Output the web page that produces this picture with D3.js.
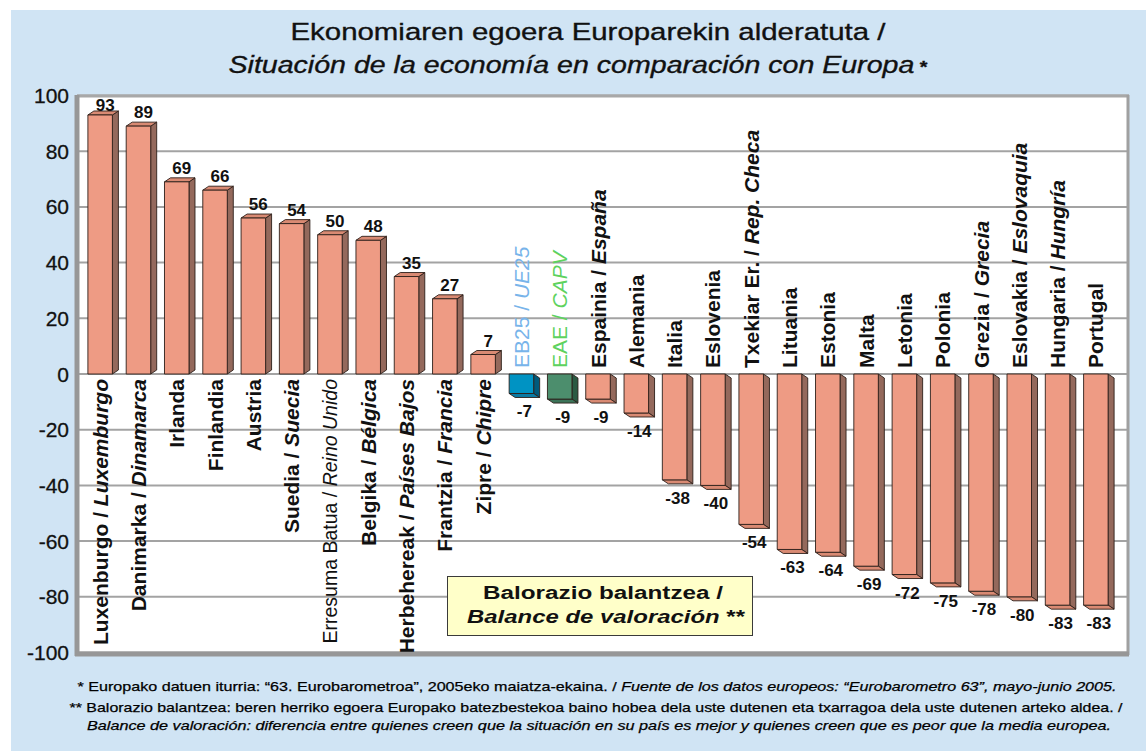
<!DOCTYPE html>
<html><head><meta charset="utf-8">
<script src="https://cdn.jsdelivr.net/npm/d3@7"></script>
<style>
body{margin:0;background:#fff}
svg{display:block}
text{font-family:"Liberation Sans",Arial,Helvetica,sans-serif}
</style>
</head><body>
<svg id="chart" width="1146" height="755"></svg>
<script>
// ---------- data ----------
const namesEu = ["Luxenburgo","Danimarka","Irlanda","Finlandia","Austria","Suedia","Erresuma Batua","Belgika","Herbehereak","Frantzia","Zipre","EB25","EAE","Espainia","Alemania","Italia","Eslovenia","Txekiar Er.","Lituania","Estonia","Malta","Letonia","Polonia","Grezia","Eslovakia","Hungaria","Portugal"];
const namesEs = ["Luxemburgo","Dinamarca","","","","Suecia","Reino Unido","Bélgica","Países Bajos","Francia","Chipre","UE25","CAPV","España","","","","Rep. Checa","","","","","","Grecia","Eslovaquia","Hungría",""];
const values = [93,89,69,66,56,54,50,48,35,27,7,-7,-9,-9,-14,-38,-40,-54,-63,-64,-69,-72,-75,-78,-80,-83,-83];
const yTicks = [100,80,60,40,20,0,-20,-40,-60,-80,-100];
const specialBars = {"EB25":"eu","EAE":"capv"};
const lightLabels = ["Erresuma Batua","EB25","EAE"];
const titleLine1 = "Ekonomiaren egoera Europarekin alderatuta /";
const titleLine2 = "Situación de la economía en comparación con Europa";
const legendLine1 = "Balorazio balantzea /";
const legendLine2 = "Balance de valoración";
const note1Eu = "* Europako datuen iturria:  “63. Eurobarometroa”, 2005eko maiatza-ekaina. /  ";
const note1Es = "Fuente de los datos europeos: “Eurobarometro 63”, mayo-junio 2005.";
const note2Eu = "** Balorazio balantzea: beren herriko egoera Europako batezbestekoa baino hobea dela uste dutenen eta txarragoa dela uste dutenen arteko aldea. /";
const note2Es = "Balance de valoración: diferencia entre quienes creen que la situación en su país es mejor y quienes creen que es peor que la media europea.";

// ---------- layout ----------
const svg = d3.select("#chart");
const plot = {left:77, right:1129, top:96, bottom:653};
const y = d3.scaleLinear().domain([-100,100]).range([652.5,95.5]);
const x = d3.scaleBand().domain(d3.range(values.length)).range([81,1115]).paddingInner(0.36).paddingOuter(0.18);
const dx = 6, dy = 4;
const palette = {
  normal:{front:"#ee9b84", side:"#94695c", cap:"#d98a73"},
  eu:{front:"#0093c3", side:"#005a7c", cap:"#0a7aa3"},
  capv:{front:"#4c8e6d", side:"#2b5a43", cap:"#3c7358"}
};
const labelColor = {normal:"#111", eu:"#78b4ea", capv:"#5ed25e"};

// background panel
svg.append("rect").attr("x",11).attr("y",10).attr("width",1135).attr("height",741).attr("fill","#d0e4f4");

// plot area
svg.append("rect").attr("x",plot.left).attr("y",plot.top).attr("width",plot.right-plot.left).attr("height",plot.bottom-plot.top).attr("fill","#fff");

// gridlines
svg.append("g").selectAll("line").data(yTicks).join("line")
  .attr("x1",plot.left).attr("x2",plot.right)
  .attr("y1",d=>y(d)).attr("y2",d=>y(d))
  .attr("stroke","#a3a3a3").attr("stroke-width",2);

// borders
svg.append("line").attr("x1",plot.left).attr("x2",plot.right).attr("y1",plot.top).attr("y2",plot.top).attr("stroke","#a8a8a8").attr("stroke-width",3);
svg.append("line").attr("x1",plot.right-1).attr("x2",plot.right-1).attr("y1",plot.top-1).attr("y2",plot.bottom+2).attr("stroke","#a0a0a0").attr("stroke-width",3);
svg.append("line").attr("x1",plot.left).attr("x2",plot.left).attr("y1",plot.top-1).attr("y2",plot.bottom+3).attr("stroke","#979797").attr("stroke-width",5);
svg.append("line").attr("x1",plot.left-2).attr("x2",plot.right).attr("y1",plot.bottom+1).attr("y2",plot.bottom+1).attr("stroke","#979797").attr("stroke-width",5);

// y tick labels
svg.append("g").selectAll("text").data(yTicks).join("text")
  .attr("x",69).attr("y",d=>y(d)).attr("dy","0.36em")
  .attr("text-anchor","end").attr("font-size",21).attr("fill","#111")
  .attr("stroke","#111").attr("stroke-width",0.3)
  .text(d=>d);

// legend box
const lg = svg.append("g");
lg.append("rect").attr("x",447.5).attr("y",576.5).attr("width",305).attr("height",59).attr("fill","#ffffc9").attr("stroke","#3a3a3a").attr("stroke-width",1);
lg.append("text").attr("x",603).attr("y",599).attr("text-anchor","middle").attr("font-size",18).attr("font-weight","bold").attr("fill","#111")
  .attr("textLength",240).attr("lengthAdjust","spacingAndGlyphs").text(legendLine1);
const l2 = lg.append("text").attr("x",606).attr("y",623).attr("text-anchor","middle").attr("font-size",18).attr("font-weight","bold").attr("fill","#111")
  .attr("textLength",278).attr("lengthAdjust","spacingAndGlyphs");
l2.append("tspan").attr("font-style","italic").text(legendLine2);
l2.append("tspan").text(" **");

// bars
const y0 = y(0);
const bars = svg.append("g");
values.forEach((v,i)=>{
  const kind = specialBars[namesEu[i]] || "normal";
  const c = palette[kind];
  const x0 = x(i), x1 = x(i)+x.bandwidth(), yv = y(v);
  const g = bars.append("g").attr("stroke","#2d1f1a").attr("stroke-width",0.9).attr("stroke-linejoin","round");
  if (v >= 0) {
    g.append("path").attr("fill",c.side).attr("d",`M${x1},${yv}L${x1+dx},${yv-dy}L${x1+dx},${y0-dy}L${x1},${y0}Z`);
    g.append("path").attr("fill",c.cap).attr("d",`M${x0},${yv}L${x0+dx},${yv-dy}L${x1+dx},${yv-dy}L${x1},${yv}Z`);
    g.append("rect").attr("fill",c.front).attr("x",x0).attr("y",yv).attr("width",x1-x0).attr("height",y0-yv);
  } else {
    g.append("path").attr("fill",c.side).attr("d",`M${x1},${y0}L${x1+dx},${y0+dy}L${x1+dx},${yv+dy}L${x1},${yv}Z`);
    g.append("path").attr("fill",c.cap).attr("d",`M${x0},${yv}L${x1},${yv}L${x1+dx},${yv+dy}L${x0+dx},${yv+dy}Z`);
    g.append("rect").attr("fill",c.front).attr("x",x0).attr("y",y0).attr("width",x1-x0).attr("height",yv-y0);
  }
});

// value labels
svg.append("g").selectAll("text").data(values).join("text")
  .attr("x",(d,i)=>x(i)+x.bandwidth()/2+(d>=0?5:3))
  .attr("y",d=> d>=0 ? Math.max(y(d)-8, plot.top+15) : y(d)+24)
  .attr("text-anchor","middle").attr("font-size",17).attr("font-weight","bold").attr("fill","#111")
  .text(d=>d);

// category labels (rotated)
const labs = svg.append("g");
values.forEach((v,i)=>{
  const kind = specialBars[namesEu[i]] || "normal";
  const cx = x(i)+x.bandwidth()/2;
  const ya = v>=0 ? y0+5 : y0-6;
  const light = lightLabels.includes(namesEu[i]);
  const t = labs.append("text")
    .attr("transform",`translate(${cx},${ya}) rotate(-90)`)
    .attr("dy","0.36em")
    .attr("text-anchor", v>=0 ? "end" : "start")
    .attr("font-size", (light && kind==="normal") ? 19.5 : 21)
    .attr("font-weight", light ? "normal" : "bold")
    .attr("fill", labelColor[kind]);
  t.append("tspan").text(namesEu[i]);
  if (namesEs[i]) {
    t.append("tspan").text(" / ");
    t.append("tspan").attr("font-style","italic").text(namesEs[i]);
  }
});

// title
svg.append("text").attr("x",588).attr("y",40).attr("text-anchor","middle").attr("font-size",24.5).attr("fill","#111")
  .attr("stroke","#111").attr("stroke-width",0.35)
  .attr("textLength",595).attr("lengthAdjust","spacingAndGlyphs").text(titleLine1);
const t2 = svg.append("text").attr("x",578).attr("y",72.5).attr("text-anchor","middle").attr("font-size",24.5).attr("fill","#111")
  .attr("stroke","#111").attr("stroke-width",0.35)
  .attr("textLength",699).attr("lengthAdjust","spacingAndGlyphs");
t2.append("tspan").attr("font-style","italic").text(titleLine2);
t2.append("tspan").attr("font-weight","bold").attr("font-size",17).text(" *");

// footnotes
const fn = svg.append("g").attr("fill","#000").attr("stroke","#000").attr("stroke-width",0.25);
const f1 = fn.append("text").attr("x",597).attr("y",691).attr("text-anchor","middle").attr("font-size",13.5)
  .attr("textLength",1039).attr("lengthAdjust","spacingAndGlyphs");
f1.append("tspan").text(note1Eu);
f1.append("tspan").attr("font-style","italic").text(note1Es);
fn.append("text").attr("x",596).attr("y",712).attr("text-anchor","middle").attr("font-size",13.5)
  .attr("textLength",1053).attr("lengthAdjust","spacingAndGlyphs").text(note2Eu);
fn.append("text").attr("x",599).attr("y",730).attr("text-anchor","middle").attr("font-size",13.5).attr("font-style","italic")
  .attr("textLength",1024).attr("lengthAdjust","spacingAndGlyphs").text(note2Es);
</script>
</body></html>
